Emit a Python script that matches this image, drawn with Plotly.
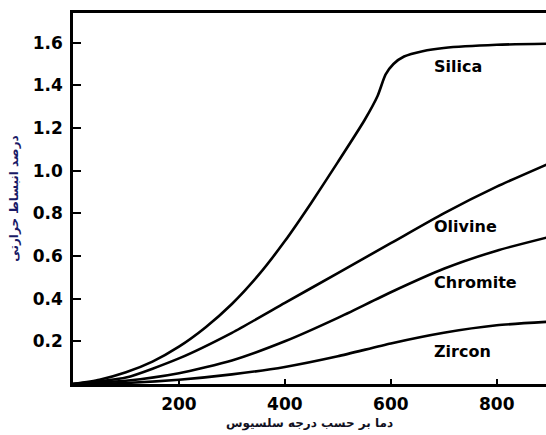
import plotly.graph_objects as go

# Temperature (°C)
temps = [0, 50, 100, 150, 200, 250, 300, 350, 400, 450, 500, 550, 575, 590, 605, 625, 660, 700, 800, 900]
silica = [0, 0.02, 0.055, 0.105, 0.175, 0.265, 0.375, 0.51, 0.67, 0.85, 1.04, 1.235, 1.35, 1.45, 1.50, 1.535, 1.56, 1.575, 1.59, 1.595]

temps_b = [0, 100, 200, 300, 400, 500, 600, 700, 800, 900]
olivine = [0, 0.03, 0.12, 0.24, 0.38, 0.52, 0.66, 0.80, 0.925, 1.035]
chromite = [0, 0.015, 0.05, 0.11, 0.20, 0.31, 0.43, 0.54, 0.625, 0.69]
zircon = [0, 0.005, 0.02, 0.045, 0.08, 0.13, 0.19, 0.24, 0.275, 0.292]

series_names = ["Silica", "Olivine", "Chromite", "Zircon"]
label_y = [1.488, 0.739, 0.477, 0.153]
label_x = 677

x_ticks = [200, 400, 600, 800]
y_ticks = [0.2, 0.4, 0.6, 0.8, 1.0, 1.2, 1.4, 1.6]
y_tick_text = ["0.2", "0.4", "0.6", "0.8", "1.0", "1.2", "1.4", "1.6"]

x_title = "دما بر حسب درجه سلسیوس"
y_title = "درصد انبساط حرارتی"

fig = go.Figure()
for xs, ys, name in [(temps, silica, "Silica"), (temps_b, olivine, "Olivine"),
                     (temps_b, chromite, "Chromite"), (temps_b, zircon, "Zircon")]:
    fig.add_trace(go.Scatter(x=xs, y=ys, mode="lines", name=name,
                             line=dict(color="black", width=2.6, shape="spline", smoothing=0.6),
                             showlegend=False, hoverinfo="skip"))

for name, ly in zip(series_names, label_y):
    fig.add_annotation(x=label_x, y=ly, text=name, showarrow=False, xanchor="left", yanchor="middle",
                       font=dict(family="DejaVu Sans", size=16, color="black", weight="bold"))

fig.update_layout(
    width=546, height=435,
    margin=dict(l=73, r=0, t=13, b=51),
    paper_bgcolor="white", plot_bgcolor="white",
    xaxis=dict(range=[0, 893], tickvals=x_ticks, ticks="inside", ticklen=5, tickwidth=1.5,
               tickcolor="black", showline=True, linecolor="black", linewidth=2.5, mirror=True,
               showgrid=False, zeroline=False, ticklabelstandoff=3,
               tickfont=dict(family="DejaVu Sans", size=17, color="black", weight="bold"),
               title=dict(text=x_title, standoff=6,
                          font=dict(family="DejaVu Sans", size=12, color="#111122", weight="bold"))),
    yaxis=dict(range=[0, 1.739], tickvals=y_ticks, ticktext=y_tick_text, ticks="inside", ticklen=8,
               tickwidth=2, tickcolor="black", showline=True, linecolor="black", linewidth=2.5,
               showgrid=False, zeroline=False, ticklabelstandoff=4,
               tickfont=dict(family="DejaVu Sans", size=17, color="black", weight="bold"),
               title=dict(text=y_title, standoff=12,
                          font=dict(family="DejaVu Sans", size=12, color="#1a1a66", weight="bold"))),
)

fig.write_html("out.html", config={"displayModeBar": False},
               post_script="document.body.style.margin='0';")
